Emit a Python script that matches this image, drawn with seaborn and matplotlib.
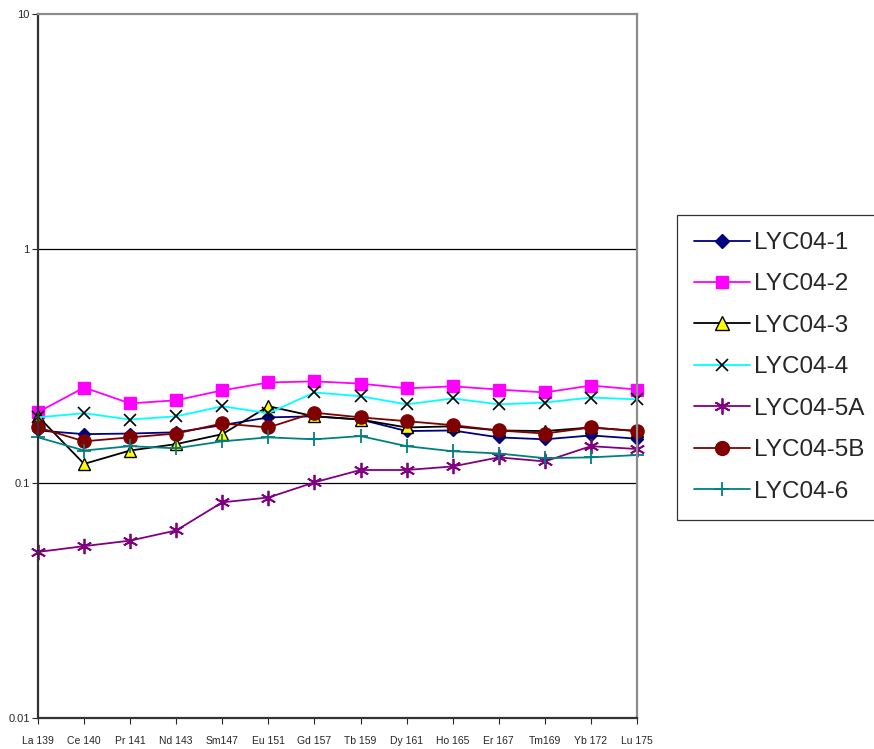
import numpy as np
import pandas as pd
import matplotlib
matplotlib.use("Agg")
import matplotlib.pyplot as plt
import seaborn as sns
from matplotlib.ticker import FixedLocator, FixedFormatter, NullLocator

elements = ["La 139", "Ce 140", "Pr 141", "Nd 143", "Sm147", "Eu 151", "Gd 157",
            "Tb 159", "Dy 161", "Ho 165", "Er 167", "Tm169", "Yb 172", "Lu 175"]

lyc04_1 = [0.168, 0.162, 0.163, 0.165, 0.177, 0.191, 0.193, 0.187, 0.167, 0.168, 0.157, 0.154, 0.160, 0.155]
lyc04_2 = [0.201, 0.256, 0.219, 0.226, 0.249, 0.269, 0.272, 0.266, 0.254, 0.259, 0.251, 0.244, 0.261, 0.251]
lyc04_3 = [0.193, 0.121, 0.138, 0.147, 0.162, 0.213, 0.193, 0.187, 0.173, 0.175, 0.168, 0.167, 0.173, 0.167]
lyc04_4 = [0.191, 0.199, 0.187, 0.193, 0.213, 0.199, 0.244, 0.235, 0.217, 0.230, 0.217, 0.221, 0.232, 0.228]
lyc04_5a = [0.051, 0.054, 0.057, 0.063, 0.083, 0.087, 0.101, 0.114, 0.114, 0.118, 0.129, 0.124, 0.144, 0.140]
lyc04_5b = [0.173, 0.151, 0.157, 0.163, 0.180, 0.173, 0.200, 0.191, 0.184, 0.177, 0.168, 0.163, 0.173, 0.167]
lyc04_6 = [0.157, 0.138, 0.144, 0.141, 0.151, 0.157, 0.154, 0.159, 0.144, 0.137, 0.134, 0.128, 0.129, 0.132]

series = {
    "LYC04-1": lyc04_1,
    "LYC04-2": lyc04_2,
    "LYC04-3": lyc04_3,
    "LYC04-4": lyc04_4,
    "LYC04-5A": lyc04_5a,
    "LYC04-5B": lyc04_5b,
    "LYC04-6": lyc04_6,
}

styles = {
    "LYC04-1": dict(color="#000080", marker="D", mfc="#000080", mec="#000080", ms=6.5, mew=1),
    "LYC04-2": dict(color="#FF00FF", marker="s", mfc="#FF00FF", mec="#FF00FF", ms=8.5, mew=1),
    "LYC04-3": dict(color="#000000", marker="^", mfc="#FFFF00", mec="#000000", ms=9, mew=1),
    "LYC04-4": dict(color="#00FFFF", marker="x", mfc="#000000", mec="#000000", ms=8.5, mew=1.2),
    "LYC04-5A": dict(color="#800080", marker=(6, 2, 0), mfc="#800080", mec="#800080", ms=11, mew=1.3),
    "LYC04-5B": dict(color="#800000", marker="o", mfc="#800000", mec="#800000", ms=9.5, mew=1),
    "LYC04-6": dict(color="#008080", marker="+", mfc="#008080", mec="#008080", ms=10, mew=1.3),
}

rows = []
for name, vals in series.items():
    for i, v in enumerate(vals):
        rows.append({"series": name, "x": i, "value": v})
df = pd.DataFrame(rows)

sns.set_style("white")
plt.rcParams['font.family'] = ['Liberation Sans', 'DejaVu Sans']

fig = plt.figure(figsize=(8.74, 7.49), dpi=100)
ax = fig.add_axes([38 / 874, 1 - 718 / 749, (637 - 38) / 874, (718 - 14) / 749])

for name in series:
    st = styles[name]
    sub = df[df["series"] == name]
    sns.lineplot(data=sub, x="x", y="value", ax=ax, color=st["color"], lw=1.3,
                 marker=st["marker"], markerfacecolor=st["mfc"], markeredgecolor=st["mec"],
                 markersize=st["ms"], markeredgewidth=st["mew"], label=name, clip_on=False)

ax.set_yscale("log")
ax.set_ylim(0.01, 10)
ax.set_xlim(0, len(elements) - 1)
ax.yaxis.set_major_locator(FixedLocator([0.01, 0.1, 1, 10]))
ax.yaxis.set_major_formatter(FixedFormatter(["0.01", "0.1", "1", "10"]))
ax.yaxis.set_minor_locator(NullLocator())
ax.set_xticks(range(len(elements)))
ax.set_xticklabels(elements, fontsize=7.5)
ax.tick_params(axis="y", labelsize=8, length=4, width=0.8, direction="out", left=True, pad=2)
ax.tick_params(axis="x", length=4, width=0.8, direction="out", bottom=True, pad=9)
ax.set_xlabel("")
ax.set_ylabel("")

for yv in [0.1, 1]:
    ax.axhline(yv, color="black", lw=0.9, zorder=0.5)

ax.spines["left"].set_color("#333333")
ax.spines["bottom"].set_color("#333333")
ax.spines["top"].set_color("#8c8c8c")
ax.spines["right"].set_color("#8c8c8c")
for s in ax.spines.values():
    s.set_linewidth(1.6)
    s.set_visible(True)
ax.grid(False)

leg = ax.legend(loc="upper left", bbox_to_anchor=(677 / 874, 1 - 215 / 749),
                bbox_transform=fig.transFigure, frameon=True, fancybox=False,
                fontsize=17.5, handlelength=2.3, labelspacing=0.8, markerscale=1.05,
                borderpad=0.7, handletextpad=0.15, borderaxespad=0)
leg.get_frame().set_edgecolor("black")
leg.get_frame().set_linewidth(0.9)

fig.savefig("out.png", dpi=100)
